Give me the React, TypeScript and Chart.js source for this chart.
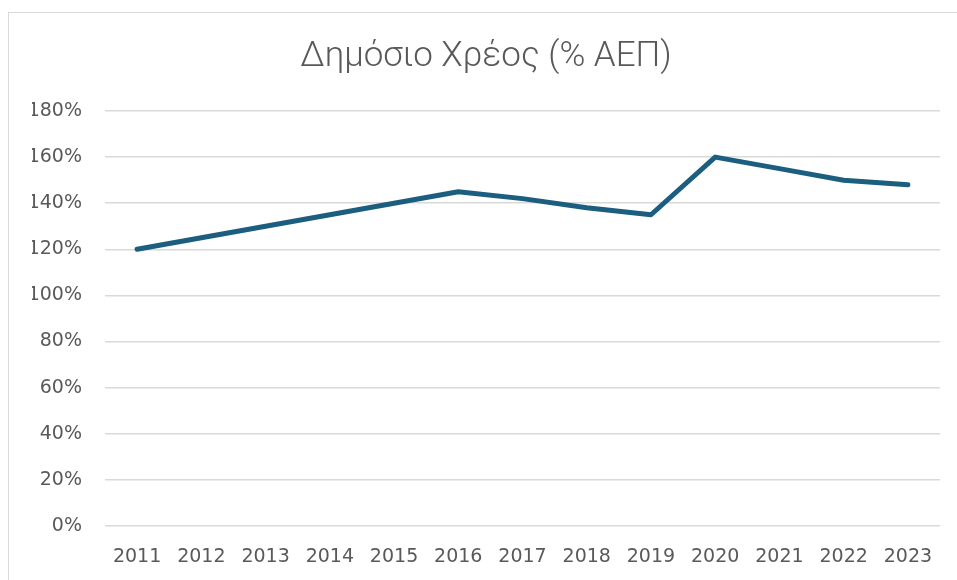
import React, { useEffect, useRef } from "react";
import { Chart, registerables } from "chart.js";

Chart.register(...registerables);

const TITLE = "Δημόσιο Χρέος (% ΑΕΠ)";
const YEARS = ["2011", "2012", "2013", "2014", "2015", "2016", "2017", "2018", "2019", "2020", "2021", "2022", "2023"];
const DEBT = [120, 125, 130, 135, 140, 145, 142, 138, 135, 160, 155, 150, 148];
const Y_MIN = 0;
const Y_MAX = 180;
const Y_STEP = 20;

export default function App() {
  const ref = useRef<HTMLCanvasElement | null>(null);

  useEffect(() => {
    if (!ref.current) return;
    const chart = new Chart(ref.current, {
      type: "line",
      data: {
        labels: YEARS,
        datasets: [
          {
            label: TITLE,
            data: DEBT,
            borderColor: "#1b5e7f",
            backgroundColor: "#1b5e7f",
            borderWidth: 5,
            pointRadius: 0,
            pointHoverRadius: 0,
            tension: 0,
            borderCapStyle: "round",
            borderJoinStyle: "round",
          },
        ],
      },
      options: {
        animation: false,
        responsive: true,
        maintainAspectRatio: false,
        layout: { padding: { left: 32, right: 17, top: 0, bottom: 16 } },
        plugins: {
          legend: { display: false },
          tooltip: { enabled: false },
          title: {
            display: true,
            text: TITLE,
            color: "#595959",
            font: { family: "Roboto", size: 35, weight: "300", lineHeight: 1.2 },
            padding: { top: 36, bottom: 33 },
          },
        },
        scales: {
          x: {
            offset: true,
            grid: { display: false, drawTicks: false },
            border: { display: false },
            afterFit: (scale: any) => {
              scale.height = 38;
            },
            ticks: {
              color: "#595959",
              font: { family: "DejaVu Sans", size: 19 },
              padding: 20,
              maxRotation: 0,
              autoSkip: false,
            },
          },
          y: {
            min: Y_MIN,
            max: Y_MAX,
            grid: { color: "#d9d9d9", lineWidth: 1.5, drawTicks: false },
            border: { display: false },
            afterFit: (scale: any) => {
              scale.width = 73;
            },
            ticks: {
              stepSize: Y_STEP,
              color: "#595959",
              font: { family: "DejaVu Sans", size: 19 },
              padding: 23,
              callback: (v: any) => `${v}%`,
            },
          },
        },
      },
    });
    return () => chart.destroy();
  }, []);

  return (
    <div style={{ position: "absolute", left: 0, top: 0, width: 957, height: 580, overflow: "hidden", background: "#fff" }}>
      <div
        style={{
          position: "absolute",
          left: 8,
          top: 12,
          width: 1000,
          height: 700,
          border: "1px solid #d9d9d9",
          boxSizing: "border-box",
        }}
      />
      <div style={{ position: "absolute", left: 0, top: 0, width: 957, height: 580 }}>
        <canvas ref={ref} />
      </div>
    </div>
  );
}
